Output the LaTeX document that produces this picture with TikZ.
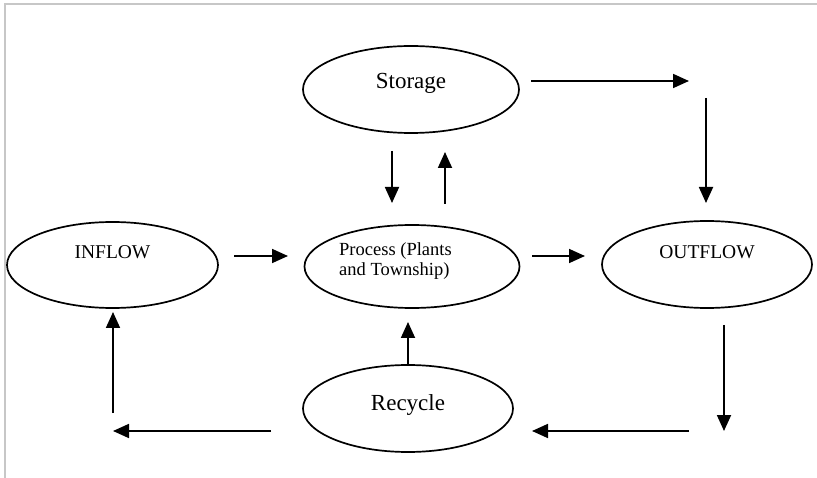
\documentclass[tikz,border=0pt]{standalone}
\usepackage{fontspec}
\setmainfont{Liberation Serif}
\usetikzlibrary{shapes.geometric,arrows.meta}

\begin{document}
\begin{tikzpicture}[x=1pt,y=-1pt,
  blob/.style={draw=black, line width=1.7pt, ellipse, inner sep=0pt},
  bigtxt/.style={font=\fontsize{23}{26}\selectfont, inner sep=0pt},
  smalltxt/.style={font=\fontsize{19.5}{22}\selectfont, inner sep=0pt},
  proctxt/.style={font=\fontsize{18.5}{19.5}\selectfont, inner sep=0pt, align=left},
  flow/.style={draw=black, line width=1.8pt, -{Triangle[length=16pt,width=14pt]}},
  frameline/.style={draw=black!22, line width=1.8pt}
]
\useasboundingbox (0,0) rectangle (817,478);

% page frame
\draw[frameline] (4.8,478) -- (4.8,4.3) -- (817,4.3);

% ellipses
\node[blob, minimum width=216pt, minimum height=87pt] (storage) at (411,89.5) {};
\node[blob, minimum width=215pt, minimum height=83pt] (process) at (412,266.5) {};
\node[blob, minimum width=211pt, minimum height=86pt] (inflow)  at (112.5,265) {};
\node[blob, minimum width=210pt, minimum height=87pt] (outflow) at (707,264.5) {};
\node[blob, minimum width=210pt, minimum height=87pt] (recycle) at (408,408.5) {};

% labels
\node[bigtxt]   (storage-t) at (411,83)   {Storage};
\node[proctxt, anchor=west] (process-t) at (339,261) {Process (Plants\\and Township)};
\node[smalltxt] (inflow-t)  at (112.5,252) {INFLOW};
\node[smalltxt] (outflow-t) at (707,252)  {OUTFLOW};
\node[bigtxt]   (recycle-t) at (408,405)  {Recycle};

% arrow end points
\coordinate (a1s) at (234,256);  \coordinate (a1e) at (288,256);
\coordinate (a2s) at (532,256);  \coordinate (a2e) at (585,256);
\coordinate (a3s) at (531,81);   \coordinate (a3e) at (689,81);
\coordinate (a4s) at (706,98);   \coordinate (a4e) at (706,203);
\coordinate (a5s) at (392,151);  \coordinate (a5e) at (392,203);
\coordinate (a6s) at (445,204);  \coordinate (a6e) at (445,152);
\coordinate (a7s) at (724,325);  \coordinate (a7e) at (724,431);
\coordinate (a8s) at (689,431);  \coordinate (a8e) at (532,431);
\coordinate (a9s) at (271,431);  \coordinate (a9e) at (113,431);
\coordinate (a10s) at (113,413); \coordinate (a10e) at (113,312);
\coordinate (a11s) at (408,364); \coordinate (a11e) at (408,322);

% flow arrows
\draw[flow] (a1s) -- (a1e);
\draw[flow] (a2s) -- (a2e);
\draw[flow] (a3s) -- (a3e);
\draw[flow] (a4s) -- (a4e);
\draw[flow] (a5s) -- (a5e);
\draw[flow] (a6s) -- (a6e);
\draw[flow] (a7s) -- (a7e);
\draw[flow] (a8s) -- (a8e);
\draw[flow] (a9s) -- (a9e);
\draw[flow] (a10s) -- (a10e);
\draw[flow] (a11s) -- (a11e);
\end{tikzpicture}
\end{document}
